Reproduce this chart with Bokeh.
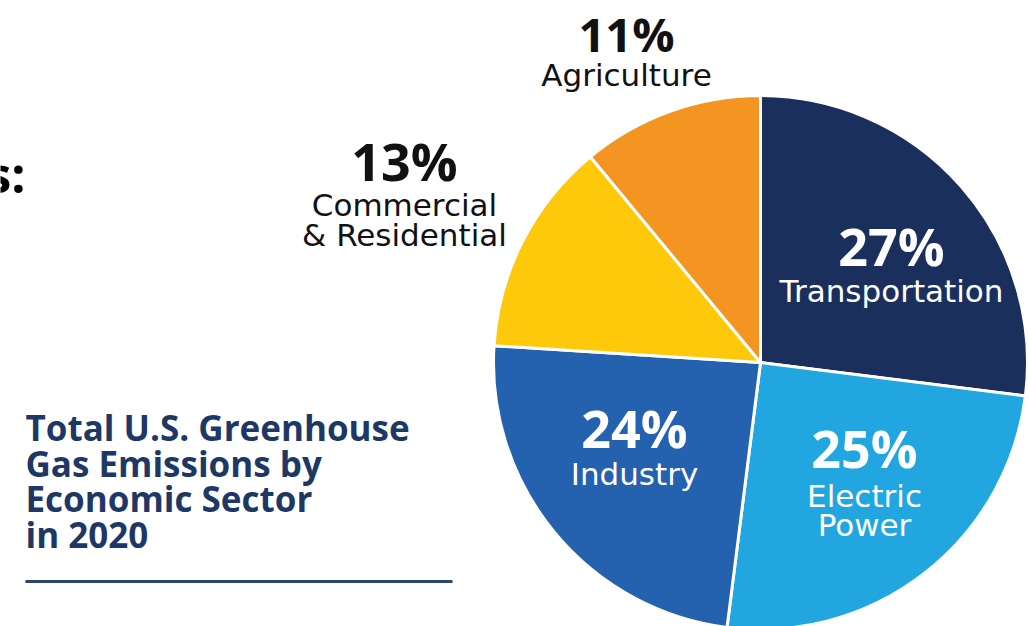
import numpy as np
from bokeh.plotting import figure
from bokeh.models import Range1d, ColumnDataSource
from bokeh.core.properties import value
from bokeh.embed import file_html
from bokeh.resources import INLINE

# ---- data ----
sectors = ["Transportation", "Electric Power", "Industry", "Commercial & Residential", "Agriculture"]
shares = [27, 25, 24, 13, 11]
pct_labels = ["27%", "25%", "24%", "13%", "11%"]
name_lines = [["Transportation"], ["Electric", "Power"], ["Industry"], ["Commercial", "& Residential"], ["Agriculture"]]
colors = ["#1B2F5C", "#21A6DF", "#2461AE", "#FDC90A", "#F49421"]
title_lines = ["Total U.S. Greenhouse", "Gas Emissions by", "Economic Sector", "in 2020"]

# ---- layout (screen pixel coordinates) ----
W, H = 1028, 626
def Y(sy):
    return H - sy

def BY(baseline, size):
    # empirical correction so glyph baseline lands on the wanted screen row
    return Y(baseline - 0.38 * size)

cx, cy, R = 760, Y(362), 267
# label anchors: (x center, pct baseline, first name baseline, line step, pct size)
label_pos = [(891, 265, 302, 0, 52), (864, 467, 507, 29, 52), (634, 447, 485, 0, 52),
             (404, 180, 216, 30, 52), (626, 51, 86, 0, 47)]
label_inside = [True, True, True, False, False]
NS, TS = 31, 35

p = figure(width=W, height=H, x_range=Range1d(0, W), y_range=Range1d(0, H),
           output_backend="svg", toolbar_location=None, min_border=0)
p.axis.visible = False
p.grid.visible = False
p.outline_line_color = None
p.background_fill_color = "white"
p.border_fill_color = "white"

fr = np.array(shares, dtype=float) / np.sum(shares)
cum = np.concatenate([[0], np.cumsum(fr)])
start = np.pi / 2 - 2 * np.pi * cum[:-1]
end = np.pi / 2 - 2 * np.pi * cum[1:]
src = ColumnDataSource(dict(sector=sectors, start=start, end=end, color=colors))
p.wedge(x=cx, y=cy, radius=R, start_angle="start", end_angle="end", direction="clock",
        fill_color="color", line_color="white", line_width=3, source=src)

pfont = value("Open Sans")
nfont = value("DejaVu Sans")
for i in range(len(sectors)):
    x, pb, nb, step, ps = label_pos[i]
    col = "white" if label_inside[i] else "#111111"
    p.text(x=[x], y=[BY(pb, ps)], text=[pct_labels[i]], text_align="center", text_baseline="alphabetic",
           text_font=pfont, text_font_style="bold", text_font_size=f"{ps}px", text_color=col)
    for j, ln in enumerate(name_lines[i]):
        p.text(x=[x], y=[BY(nb + j * step, NS)], text=[ln], text_align="center", text_baseline="alphabetic",
               text_font=nfont, text_font_style="normal", text_font_size=f"{NS}px", text_color=col)

# title block
title_base = [440, 476, 511, 547]
for ln, b in zip(title_lines, title_base):
    p.text(x=[25], y=[BY(b, TS)], text=[ln], text_align="left", text_baseline="alphabetic",
           text_font=pfont, text_font_style="bold", text_font_size=f"{TS}px", text_color="#1E3866")
p.segment(x0=[25], y0=[Y(581)], x1=[452], y1=[Y(581)], line_color="#2E4470", line_width=3)

# cut-off heading fragment (cut at the left edge in the reference too)
p.text(x=[25], y=[BY(192, 50)], text=["s:"], text_align="right", text_baseline="alphabetic",
       text_font=pfont, text_font_style="bold", text_font_size="50px", text_color="#000000")

open("out.html", "w").write(file_html(p, INLINE))
